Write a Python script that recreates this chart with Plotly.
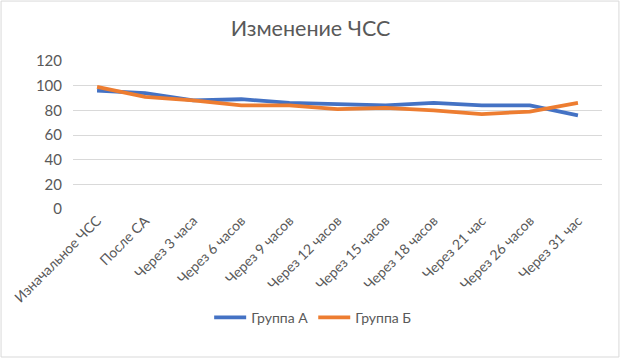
import plotly.graph_objects as go

categories = ["Изначальное ЧСС", "После СА", "Через 3 часа", "Через 6 часов", "Через 9 часов",
              "Через 12 часов", "Через 15 часов", "Через 18 часов", "Через 21 час",
              "Через 26 часов", "Через 31 час"]
group_a = [96, 94, 88, 89, 86, 85, 84, 86, 84, 84, 76]
group_b = [99, 91, 88, 84, 84, 81, 82, 80, 77, 79, 86]
y_ticks = [0, 20, 40, 60, 80, 100, 120]

FONT = "Lato, 'Open Sans', sans-serif"
GRAY = "#595959"

fig = go.Figure()
fig.add_trace(go.Scatter(x=categories, y=group_a, mode="lines", name="Группа А",
                         line=dict(color="#4472C4", width=3.8)))
fig.add_trace(go.Scatter(x=categories, y=group_b, mode="lines", name="Группа Б",
                         line=dict(color="#ED7D31", width=3.8)))

fig.update_layout(
    width=621, height=359,
    margin=dict(l=73, r=19, t=61, b=150, autoexpand=False),
    paper_bgcolor="white", plot_bgcolor="white",
    font=dict(family=FONT, color=GRAY, size=13),
    title=dict(text="Изменение ЧСС", x=0.5, xanchor="center", y=0.922, yanchor="middle",
               font=dict(size=21.5, color=GRAY, family=FONT)),
    showlegend=True,
    legend=dict(orientation="h", x=0.454, xanchor="center", y=-0.735, yanchor="middle",
                font=dict(size=14, color=GRAY), itemwidth=32),
    xaxis=dict(type="category", range=[-0.5, 10.5], showgrid=False, showline=False, ticks="",
               tickangle=-45, tickfont=dict(size=14, color=GRAY), zeroline=False,
               automargin=False),
    yaxis=dict(range=[0, 120], tickvals=y_ticks, showgrid=True, gridcolor="#D9D9D9",
               gridwidth=1, zeroline=False, showline=False, ticks="", automargin=False,
               tickfont=dict(size=15, color=GRAY), ticklabelstandoff=10),
    shapes=[dict(type="rect", xref="paper", yref="paper",
                 x0=-0.136, x1=1.032, y0=-1.0, y1=1.405,
                 line=dict(color="#D9D9D9", width=1), fillcolor="rgba(0,0,0,0)", layer="above")],
)

fig.write_html("out.html", config={"displayModeBar": False},
               post_script="document.body.style.margin='0';document.body.style.overflow='hidden';")
